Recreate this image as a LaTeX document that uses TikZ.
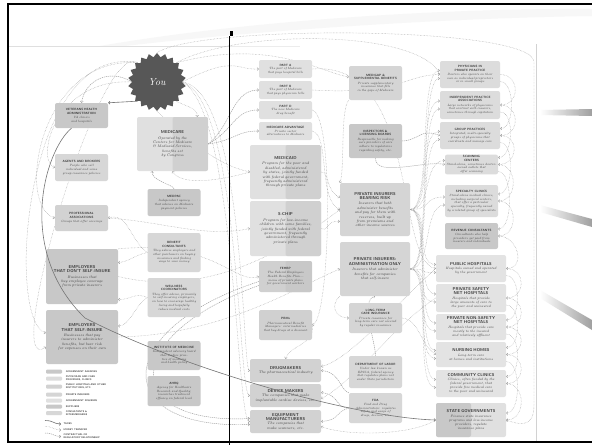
\documentclass[tikz,border=0pt]{standalone}
\usepackage{fontspec}
\usetikzlibrary{shapes.geometric,arrows.meta,backgrounds,positioning}

\definecolor{ink}{HTML}{3A3A3A}
\definecolor{starfill}{HTML}{575757}
\definecolor{agency}{HTML}{C8C8C8}
\definecolor{provider}{HTML}{DCDCDC}
\definecolor{hospital}{HTML}{E3E3E3}
\definecolor{insurer}{HTML}{D5D5D5}
\definecolor{govins}{HTML}{E0E0E0}
\definecolor{govdark}{HTML}{D0D0D0}
\definecolor{supplier}{HTML}{D2D2D2}
\definecolor{consult}{HTML}{D7D7D7}
\definecolor{wire}{HTML}{9C9C9C}

\newcommand{\ttl}[1]{{\sffamily\bfseries #1}}
\newcommand{\Ttl}[1]{{\fontsize{4.2}{4.6}\selectfont\sffamily\bfseries #1}}
\newcommand{\dsc}[1]{{\itshape #1}}

\begin{document}
\begin{tikzpicture}[x=1pt, y=-1pt, >={Straight Barb[length=1.3pt,width=2.8pt]}]
		\tikzset{box/.style = {rounded corners=2pt, align=center, inner sep=1pt, text=ink, font=\fontsize{3.1}{3.7}\selectfont}}
		\tikzset{sbox/.style = {box, minimum width=53pt, text width=50pt}}
		\tikzset{mbox/.style = {box, minimum width=60pt, text width=57pt}}
		\tikzset{rbox/.style = {box, minimum width=70pt, text width=66pt, font=\fontsize{3.4}{4}\selectfont}}
		\tikzset{wbox/.style = {box, minimum width=71pt, text width=68pt, font=\fontsize{3.7}{4.4}\selectfont}}
		\tikzset{twotone/.style = {path picture={\fill[#1] (path picture bounding box.north) rectangle (path picture bounding box.south east);}}}
		\tikzset{ltwotone/.style = {path picture={\fill[#1] (path picture bounding box.north) rectangle (path picture bounding box.south west);}}}
		\tikzset{money/.style = {->, densely dotted, wire, line width=.45pt}}
		\tikzset{contract/.style = {->, dashed, dash pattern=on 1.2pt off .8pt, wire, line width=.45pt}}
		\tikzset{taxes/.style = {->, wire!75!black, line width=.6pt}}
		\tikzset{swatch/.style = {rounded corners=1pt, minimum width=16pt, minimum height=4pt, inner sep=0pt}}
		\tikzset{legtext/.style = {font=\fontsize{2.4}{2.8}\selectfont\sffamily\bfseries, text=ink, align=left, inner sep=.5pt}}
		
		\useasboundingbox (0,0) rectangle (592,445);
		
		% left panel
		\node[star, star points=22, star point ratio=1.16, minimum size=58pt, inner sep=0pt, fill=starfill, text=white, font=\fontsize{10}{10}\selectfont\itshape] (you) at (157,82) {You};
		\node[sbox, fill=agency, minimum height=25pt]       (va) at ( 81.5,115.5) {\ttl{VETERANS HEALTH\\ADMINISTRATION}\\[.6pt]\dsc{VA clinics\\and hospitals}};
		\node[wbox, fill=govins, twotone=govdark, minimum height=54pt] (medicare) at (172.5,144) {\Ttl{MEDICARE}\\[1pt]\dsc{Operated by the\\Centers for Medicare\\\& Medicaid Services,\\benefits set\\by Congress}};
		\node[sbox, fill=consult, minimum height=27pt]      (agents) at ( 81.5,167.5) {\ttl{AGENTS AND BROKERS}\\[.6pt]\dsc{People who sell\\individual and some\\group insurance policies}};
		\node[sbox, fill=agency, minimum height=27pt]       (medpac) at (174,202.5) {\ttl{MEDPAC}\\[.6pt]\dsc{Independent agency\\that advises on Medicare\\payment policies}};
		\node[sbox, fill=supplier, minimum height=26pt]     (prof) at ( 81.5,218) {\ttl{PROFESSIONAL\\ASSOCIATIONS}\\[.6pt]\dsc{Groups that offer coverage}};
		\node[sbox, fill=consult, minimum height=39pt]      (benefit) at (174,252.5) {\ttl{BENEFIT\\CONSULTANTS}\\[.6pt]\dsc{They advise employers and\\other purchasers on buying\\insurance and finding\\ways to save money}};
		\node[wbox, fill=agency, minimum width=72pt, minimum height=55pt] (empnot) at (82,276.5) {\Ttl{EMPLOYERS\\THAT DON'T SELF-INSURE}\\[1pt]\dsc{Businesses that\\buy employee coverage\\from private insurers}};
		\node[sbox, fill=consult, minimum height=39pt]      (wellness) at (174,297.5) {\ttl{WELLNESS\\COORDINATORS}\\[.6pt]\dsc{They offer advice, primarily\\to self-insuring employers,\\on how to encourage healthy\\living and hopefully\\reduce medical costs}};
		\node[wbox, fill=agency, minimum width=72pt, minimum height=54pt] (empself) at (82,337) {\Ttl{EMPLOYERS\\THAT SELF-INSURE}\\[1pt]\dsc{Businesses that pay\\insurers to administer\\benefits, but bear risk\\for expenses on their own}};
		\node[sbox, fill=agency, minimum height=29pt]       (iom) at (174,355.5) {\ttl{INSTITUTE OF MEDICINE}\\[.6pt]\dsc{Independent advisory board\\that studies practice of medicine\\and health policy}};
		\node[sbox, fill=agency, minimum height=30pt]       (ahrq) at (174,391) {\ttl{AHRQ}\\[.6pt]\dsc{Agency for Healthcare\\Research and Quality;\\researches treatment\\efficacy on federal level}};
		
		% legend
		\node[swatch, fill=agency]   (lg1) at (54,371.5) {};
		\node[swatch, fill=provider] (lg2) at (54,378.5) {};
		\node[swatch, fill=supplier] (lg3) at (54,386.5) {};
		\node[swatch, fill=insurer]  (lg4) at (54,394.5) {};
		\node[swatch, fill=govins]   (lg5) at (54,400.5) {};
		\node[swatch, fill=agency]   (lg6) at (54,406.5) {};
		\node[swatch, fill=consult]  (lg7) at (54,413) {};
		\node[legtext, right=3pt of lg1] {GOVERNMENT AGENCIES};
		\node[legtext, right=3pt of lg2] {PHYSICIANS AND CARE\\PROVIDERS, CLINICS};
		\node[legtext, right=3pt of lg3] {PUBLIC HOSPITALS AND OTHER\\INSTITUTIONS, ETC.};
		\node[legtext, right=3pt of lg4] {PRIVATE INSURERS};
		\node[legtext, right=3pt of lg5] {GOVERNMENT INSURERS};
		\node[legtext, right=3pt of lg6] {SUPPLIERS};
		\node[legtext, right=3pt of lg7] {CONSULTANTS \&\\INTERMEDIARIES};
		\coordinate (ta) at (45,420.5); \coordinate (tb) at (61,424);
		\coordinate (ma1) at (45,426.5); \coordinate (mb) at (61,430);
		\coordinate (ca) at (45,433); \coordinate (cb) at (61,436.5);
		\draw[taxes] (ta) .. controls (52,420) and (54,424) .. (tb);
		\draw[money] (ma1) .. controls (52,426) and (54,430) .. (mb);
		\draw[contract] (ca) .. controls (52,432.5) and (54,436.5) .. (cb);
		\node[legtext, right=2pt of tb] {TAXES};
		\node[legtext, right=2pt of mb] {MONEY TRANSFER};
		\node[legtext, right=2pt of cb] {CONTRACTUAL OR\\REGULATORY RELATIONSHIP};
		
		% middle panel
		\node[sbox, fill=govins, minimum height=18pt]   (parta) at (285.5,69) {\ttl{PART A}\\\dsc{The part of Medicare\\that pays hospital bills}};
		\node[sbox, fill=govins, minimum height=18pt]   (partb) at (285.5,90) {\ttl{PART B}\\\dsc{The part of Medicare\\that pays physician bills}};
		\node[sbox, fill=govins, minimum height=18pt]   (partd) at (285.5,110) {\ttl{PART D}\\\dsc{The new Medicare\\drug benefit}};
		\node[sbox, fill=govins, minimum height=18pt]   (ma) at (285.5,131) {\ttl{MEDICARE ADVANTAGE}\\\dsc{Private sector\\alternatives to Medicare}};
		\node[sbox, fill=insurer, minimum height=34pt]  (medigap) at (375.5,83) {\ttl{MEDIGAP \&\\SUPPLEMENTAL BENEFITS}\\[.6pt]\dsc{Private supplementary\\insurance that fills\\in the gaps of Medicare}};
		\node[sbox, fill=agency, minimum height=34pt]   (inspect) at (375.5,141) {\ttl{INSPECTORS \&\\LICENSING BOARDS}\\[.6pt]\dsc{Responsible for making\\sure providers of care\\adhere to regulations\\regarding safety, etc.}};
		\node[wbox, fill=govins, twotone=govdark, minimum height=54pt] (medicaid) at (285.5,172) {\Ttl{MEDICAID}\\[1pt]\dsc{Program for the poor and\\disabled, administered\\by states, jointly funded\\with federal government,\\frequently administered\\through private plans}};
		\node[wbox, fill=govins, twotone=govdark, minimum height=55pt] (schip) at (285.5,228.5) {\Ttl{S-CHIP}\\[1pt]\dsc{Program for low-income\\children with some families,\\jointly funded with federal\\government, frequently\\administered through\\private plans}};
		\node[wbox, fill=insurer, minimum width=70pt, minimum height=53pt] (prisk) at (375,209.5) {\Ttl{PRIVATE INSURERS\\BEARING RISK}\\[1pt]\dsc{Insurers that both\\administer benefits\\and pay for them with\\reserves, built up\\from premiums and\\other income sources}};
		\node[sbox, fill=govdark, twotone=agency, minimum height=31pt] (fehbp) at (285.5,276.5) {\ttl{FEHBP}\\[.6pt]\dsc{The Federal Employees\\Health Benefits Plan---\\menu of private plans\\for government workers}};
		\node[wbox, fill=insurer, minimum width=70pt, minimum height=54pt] (padmin) at (375,269) {\Ttl{PRIVATE INSURERS:\\ADMINISTRATION ONLY}\\[1pt]\dsc{Insurers that administer\\benefits for companies\\that self-insure}};
		\node[sbox, fill=govdark, minimum height=30pt]  (pbm) at (285.5,325) {\ttl{PBMs}\\[.6pt]\dsc{Pharmaceutical Benefit\\Managers: intermediaries\\that buy drugs at a discount}};
		\node[sbox, fill=insurer, minimum height=30pt]  (ltc) at (375.5,318) {\ttl{LONG-TERM\\CARE INSURANCE}\\[.6pt]\dsc{Private insurance for\\long-term care not covered\\by regular insurance}};
		\node[wbox, fill=supplier, minimum height=23pt] (drug) at (285.5,370.5) {\Ttl{DRUGMAKERS}\\\dsc{The pharmaceutical industry}};
		\node[sbox, fill=consult, minimum height=32pt]  (labor) at (375.5,372) {\ttl{DEPARTMENT OF LABOR}\\[.6pt]\dsc{Under law known as\\ERISA, federal agency\\that regulates plans not\\under State jurisdiction}};
		\node[wbox, fill=supplier, minimum height=23pt] (device) at (285.5,395.5) {\Ttl{DEVICE MAKERS}\\\dsc{The companies that make\\implantable cardiac devices, etc.}};
		\node[sbox, fill=consult, minimum height=30pt]  (fda) at (375.5,408) {\ttl{FDA}\\[.6pt]\dsc{Food and Drug\\Administration: regulates\\safety and usage of\\drugs, devices, etc.}};
		\node[wbox, fill=supplier, minimum height=23pt] (equip) at (285.5,421.5) {\Ttl{EQUIPMENT\\MANUFACTURERS}\\\dsc{The companies that\\make scanners, etc.}};
		
		% right panel
		\node[mbox, fill=provider, minimum height=27pt] (phys) at (470,74.5) {\ttl{PHYSICIANS IN\\PRIVATE PRACTICE}\\[.6pt]\dsc{Doctors who operate on their\\own as individual proprietors\\or in small groups}};
		\node[mbox, fill=provider, minimum height=28pt] (ipa) at (470,105) {\ttl{INDEPENDENT PRACTICE\\ASSOCIATIONS}\\[.6pt]\dsc{Large networks of physicians\\that contract with insurers,\\sometimes through capitation}};
		\node[mbox, fill=provider, minimum height=27pt] (group) at (470,135.5) {\ttl{GROUP PRACTICES}\\[.6pt]\dsc{Integrated, multi-specialty\\groups of physicians that\\coordinate and manage care}};
		\node[sbox, fill=provider, minimum height=19pt] (scan) at (471.5,164.5) {\ttl{SCANNING\\CENTERS}\\\dsc{Stand-alone, sometimes doctor-\\owned outlets that offer scanning}};
		\node[sbox, fill=provider, minimum height=32pt] (spec) at (471.5,201) {\ttl{SPECIALTY CLINICS}\\[.6pt]\dsc{Stand-alone medical clinics,\\including surgical centers,\\that offer a particular\\specialty, frequently owned\\by a related group of specialists}};
		\node[sbox, fill=agency, minimum height=26pt]   (revenue) at (471.5,236) {\ttl{REVENUE CONSULTANTS}\\[.6pt]\dsc{Consultants who help\\providers get paid from\\insurers and individuals}};
		\node[rbox, fill=hospital, minimum height=27pt] (pubhosp) at (471,268.5) {\Ttl{PUBLIC HOSPITALS}\\[.6pt]\dsc{Hospitals owned and operated\\by the government}};
		\node[rbox, fill=hospital, minimum height=28pt] (safety) at (471,298) {\Ttl{PRIVATE SAFETY\\NET HOSPITALS}\\[.6pt]\dsc{Hospitals that provide\\large amounts of care to\\the poor and uninsured}};
		\node[rbox, fill=hospital, minimum height=26pt] (nonsafety) at (471,327) {\Ttl{PRIVATE NON-SAFETY\\NET HOSPITALS}\\[.6pt]\dsc{Hospitals that provide care\\mostly to the insured\\and relatively affluent}};
		\node[rbox, fill=hospital, minimum height=25pt] (nursing) at (471,354.5) {\Ttl{NURSING HOMES}\\[.6pt]\dsc{Long-term care\\at homes and institutions}};
		\node[rbox, fill=hospital, minimum height=27pt] (community) at (471,383.5) {\Ttl{COMMUNITY CLINICS}\\[.6pt]\dsc{Clinics, often funded by the\\federal government, that\\provide free medical care\\to the poor and uninsured}};
		\node[rbox, fill=govins, ltwotone=agency, minimum height=34pt] (state) at (471,420) {\Ttl{STATE GOVERNMENTS}\\[.6pt]\dsc{Finance state insurance\\programs and low-income\\providers, regulate\\insurance plans}};
		
		% page frame
		\draw[line width=2pt] (592,4) -- (8,4) -- (8,442) -- (592,442);
		\draw[line width=.8pt] (229.5,36) -- (229.5,445);
		\fill (230,31) rectangle (232.5,36);
		
		\coordinate (tr) at (534,62);
		\coordinate (br) at (534,405);
		\coordinate (bend) at (85,318);
		
		\begin{scope}[on background layer]
		\fill[white] (0,0) rectangle (592,445);
		\fill[gray!6] (100,46) .. controls (250,20) and (450,8) .. (592,9) -- (592,16) .. controls (450,18) and (260,30) .. (125,46) -- cycle;
		\draw[gray!25, line width=1pt] (9,46) -- (229,46);
		\draw[gray!15, line width=1pt] (229,46) -- (300,46);
		\draw[gray!35, line width=.5pt] (536.5,44) -- (536.5,441);
		\shade[left color=white, right color=gray!75] (540,110) -- (592,109) -- (592,116) -- (540,115) -- cycle;
		\shade[left color=white, right color=gray!75] (540,205) -- (592,219) -- (592,227) -- (540,212) -- cycle;
		\shade[left color=white, right color=gray!75] (540,290) -- (592,320) -- (592,330) -- (540,298) -- cycle;
		
		\draw[money] (you.north east) .. controls (240,28) and (420,30) .. (phys.west);
		\draw[money] (you.north) .. controls (200,24) and (534,26) .. (tr) -- (br) .. controls (534,428) and (520,425) .. (state.east);
		\draw[money] (you.east) .. controls (235,55) and (235,70) .. (parta.west);
		\draw[money] (you.north east) .. controls (270,38) and (320,72) .. ([yshift=6pt]medigap.west);
		\draw[contract] (you.west) .. controls (110,68) and (85,80) .. (va.north);
		\draw[money] (you.west) .. controls (55,78) and (35,160) .. (agents.west);
		\draw[money] (you.north west) .. controls (40,55) and (15,205) .. (prof.west);
		\draw[money] (you.south east) .. controls (190,108) and (197,108) .. ([xshift=-11pt]medicare.north east);
		\draw[money] (you.north west) .. controls (25,40) and (5,320) .. ([yshift=4pt]empself.west);
		\draw[money] (you.north west) .. controls (100,35) and (0,380) .. ([yshift=-10pt]empself.west);
		\draw[money] (you.east) .. controls (245,90) and (242,370) .. (drug.west);
		\draw[money] (you.east) .. controls (240,100) and (238,395) .. (device.west);
		\draw[money] (you.east) .. controls (236,110) and (236,421) .. (equip.west);
		\draw[money] (you.south) .. controls (200,150) and (220,165) .. (medicaid.west);
		
		\draw[contract] (medicare.east) .. controls (232,125) and (232,90) .. (partb.west);
		\draw[contract] (medicare.east) .. controls (234,130) and (234,110) .. (partd.west);
		\draw[contract] (medicare.east) .. controls (236,140) and (236,131) .. (ma.west);
		\draw[money] (medicaid.west) .. controls (215,182) and (180,185) .. (medicare.south);
		\draw[contract] (medpac.north) .. controls (174,185) and (150,180) .. ([xshift=-20pt]medicare.south);
		
		\draw[money] (benefit.west) .. controls (130,240) and (128,212) .. (prof.east);
		\draw[money] (benefit.west) .. controls (135,255) and (128,262) .. ([yshift=14pt]empnot.east);
		\draw[money] (wellness.west) .. controls (135,292) and (130,300) .. ([yshift=-23pt]empnot.east);
		\draw[money] (wellness.west) .. controls (135,305) and (130,326) .. ([yshift=11pt]empself.east);
		\draw[money] (prof.east) .. controls (165,222) and (205,238) .. (schip.west);
		\draw[money] (empnot.east) .. controls (215,300) and (300,240) .. (prisk.west);
		\draw[money] (empself.east) .. controls (225,335) and (300,285) .. (padmin.west);
		\draw[money] (empnot.north east) .. controls (215,240) and (235,285) .. (fehbp.west);
		\draw[contract] ([yshift=-5pt]fehbp.west) .. controls (110,330) and (110,430) .. ([yshift=-3pt]equip.west);
		\draw[contract] ([yshift=-9pt]fehbp.west) .. controls (120,335) and (120,425) .. ([yshift=3pt]equip.west);
		
		\draw[money] (pbm.east) .. controls (315,345) and (290,345) .. (drug.north);
		\draw[money] (partd.east) .. controls (335,115) and (330,320) .. (pbm.east);
		\draw[money] (ma.east) .. controls (330,135) and (318,200) .. (prisk.west);
		\draw[money] (medicaid.east) .. controls (330,172) and (325,190) .. ([yshift=12pt]prisk.west);
		\draw[money] (schip.east) .. controls (330,232) and (325,220) .. ([yshift=-12pt]prisk.west);
		\draw[money] (partb.east) .. controls (400,95) and (405,75) .. (phys.west);
		\draw[money] (parta.east) .. controls (420,60) and (395,262) .. (pubhosp.west);
		\draw[money] (medigap.south west) .. controls (340,110) and (345,170) .. (prisk.north west);
		\draw[contract] (inspect.south) .. controls (375,178) and (425,160) .. (scan.west);
		\draw[contract] (inspect.east) .. controls (420,140) and (420,128) .. (group.west);
		\draw[money] (padmin.south west) .. controls (330,305) and (335,318) .. (ltc.west);
		\draw[money] (ltc.east) .. controls (420,320) and (420,345) .. (nursing.west);
		\draw[contract] (labor.north) .. controls (375,340) and (360,300) .. (padmin.south);
		\draw[contract] (fda.west) .. controls (335,408) and (340,395) .. ([yshift=3pt]device.east);
		\draw[contract] (fda.west) .. controls (335,412) and (340,420) .. (equip.east);
		\draw[contract] (fda.north west) .. controls (340,390) and (340,372) .. (drug.east);
		\draw[money] (pubhosp.west) .. controls (400,300) and (350,360) .. ([yshift=4pt]drug.east);
		\draw[money] (safety.west) .. controls (400,320) and (350,385) .. ([yshift=-3pt]device.east);
		\draw[money] (state.west) .. controls (410,436) and (345,436) .. ([yshift=-5pt]equip.east);
		
		\foreach \p in {phys,ipa,group,scan,spec,pubhosp,safety,nonsafety,nursing,community}
			\draw[money] (prisk.east) .. controls +(22,0) and +(-22,0) .. ([yshift=4pt]\p.west);
		\foreach \p in {phys,ipa,group,spec,pubhosp,safety,nonsafety,nursing,community}
			\draw[money] (padmin.east) .. controls +(22,0) and +(-22,0) .. ([yshift=-4pt]\p.west);
		\foreach \a/\b in {phys/ipa,ipa/group,group/scan,scan/spec,spec/revenue,revenue/pubhosp,pubhosp/safety,safety/nonsafety,nonsafety/nursing,nursing/community,community/state}
			\draw[money] (\a.east) .. controls +(20,0) and +(20,0) .. (\b.east);
		\foreach \a/\b in {phys/group,ipa/scan,group/spec,scan/revenue,pubhosp/nonsafety,safety/nursing,nonsafety/community,nursing/state}
			\draw[money] ([yshift=-7pt]\a.east) .. controls +(15,0) and +(15,0) .. ([yshift=7pt]\b.east);
		\end{scope}
		
		\draw[taxes] (you.south west) -- (va.north east);
		\draw[taxes] ([xshift=-10pt]va.south) .. controls (45,150) and (15,250) .. (bend) .. controls (190,372) and (360,418) .. (state.west);
		\end{tikzpicture}
\end{document}
